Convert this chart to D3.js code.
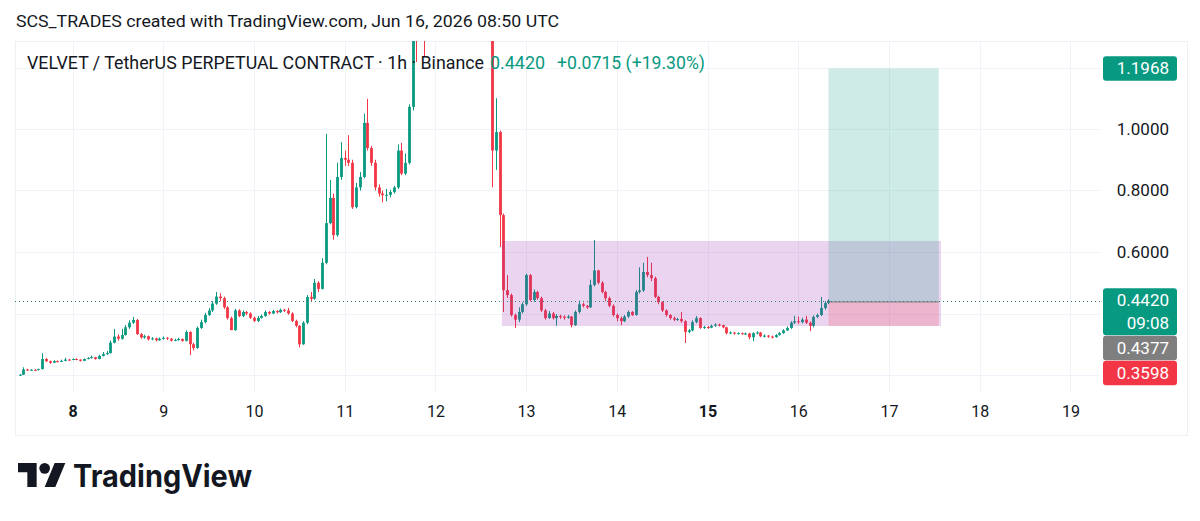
<!DOCTYPE html>
<html>
<head>
<meta charset="utf-8">
<title>VELVET / TetherUS 1h</title>
<script src="https://cdn.jsdelivr.net/npm/d3@7"></script>
<style>
  body { margin: 0; background: #fff; }
  svg { display: block; font-family: Roboto, "Noto Sans", sans-serif; }
</style>
</head>
<body>
<svg width="1200" height="521"></svg>
<script>
// hourly bars, first bar Jun 7 10:00 UTC, open of the first bar, then each bar opens at the previous close
const firstBarTime = Date.UTC(2026, 5, 7, 10);
const firstOpen = 0.199;
const closes = [
  0.201,0.218,0.215,0.217,0.216,0.219,0.252,0.245,0.240,0.245,0.243,0.246,0.250,0.249,
  0.252,0.250,0.246,0.252,0.255,0.258,0.252,0.262,0.268,0.271,0.305,0.325,0.318,0.330,0.355,0.370,0.379,0.333,0.322,0.326,0.316,0.319,0.313,0.318,
  0.321,0.318,0.312,0.314,0.317,0.311,0.340,0.300,0.288,0.353,0.372,0.395,0.410,0.432,0.455,0.450,0.420,0.385,0.346,0.410,0.392,0.405,0.400,0.386,
  0.376,0.386,0.392,0.405,0.400,0.408,0.404,0.412,0.410,0.400,0.376,0.360,0.300,0.370,0.454,0.448,0.500,0.480,0.565,0.694,0.776,0.655,0.844,0.906,
  0.900,0.890,0.746,0.810,0.844,1.020,0.938,0.890,0.810,0.790,0.785,0.786,0.795,0.810,0.930,0.855,0.890,1.072,1.380,1.300,1.360,1.310,1.420,1.520,
  1.480,1.550,1.600,1.540,1.580,1.620,1.560,1.500,1.540,1.480,1.450,1.500,1.460,1.420,1.450,0.930,0.990,0.720,0.476,0.460,0.395,0.380,0.405,0.430,
  0.525,0.444,0.470,0.450,0.410,0.385,0.400,0.385,0.392,0.390,0.386,0.390,0.362,0.405,0.430,0.425,0.420,0.493,0.540,0.500,0.470,0.450,0.425,0.395,
  0.385,0.375,0.390,0.405,0.395,0.470,0.475,0.535,0.525,0.515,0.454,0.437,0.410,0.395,0.385,0.380,0.382,0.375,0.340,0.345,0.372,0.385,0.353,0.356,
  0.354,0.360,0.364,0.362,0.355,0.336,0.338,0.335,0.336,0.334,0.335,0.323,0.336,0.338,0.326,0.328,0.325,0.323,0.330,0.336,0.345,0.353,0.370,0.375,
  0.372,0.380,0.370,0.360,0.389,0.395,0.418,0.434,0.442
];
const highs = [
  0.203,0.225,0.220,0.219,0.219,0.221,0.271,0.255,0.247,0.248,0.247,0.250,0.256,0.252,
  0.254,0.254,0.251,0.254,0.258,0.263,0.259,0.266,0.275,0.278,0.312,0.350,0.332,0.350,0.362,0.378,0.389,0.382,0.336,0.331,0.328,0.323,0.321,0.322,
  0.325,0.323,0.320,0.318,0.321,0.319,0.345,0.342,0.305,0.358,0.380,0.402,0.418,0.440,0.470,0.466,0.455,0.424,0.390,0.415,0.414,0.410,0.408,0.404,
  0.390,0.392,0.397,0.410,0.408,0.412,0.411,0.416,0.415,0.418,0.404,0.380,0.362,0.375,0.460,0.470,0.512,0.505,0.580,0.984,0.834,0.790,0.890,0.957,
  0.930,0.980,0.900,0.825,0.860,1.050,1.098,0.945,0.900,0.820,0.800,0.805,0.802,0.815,0.950,0.955,0.920,1.080,1.420,1.450,1.400,1.380,1.460,1.580,
  1.600,1.620,1.680,1.650,1.640,1.700,1.640,1.580,1.600,1.560,1.520,1.540,1.520,1.480,1.500,1.460,1.100,0.995,0.725,0.525,0.465,0.400,0.420,0.436,
  0.530,0.528,0.478,0.474,0.455,0.415,0.408,0.405,0.398,0.396,0.394,0.395,0.392,0.410,0.442,0.435,0.428,0.510,0.639,0.542,0.505,0.474,0.455,0.430,
  0.400,0.390,0.395,0.410,0.408,0.476,0.550,0.565,0.584,0.565,0.520,0.458,0.440,0.414,0.398,0.390,0.386,0.405,0.378,0.350,0.378,0.392,0.388,0.360,
  0.359,0.364,0.368,0.367,0.364,0.357,0.342,0.340,0.339,0.338,0.338,0.337,0.339,0.342,0.340,0.332,0.330,0.328,0.333,0.340,0.349,0.358,0.375,0.392,
  0.390,0.386,0.392,0.374,0.394,0.400,0.454,0.440,0.446
];
const lows = [
  0.197,0.200,0.213,0.214,0.214,0.215,0.218,0.242,0.236,0.239,0.241,0.242,0.245,0.247,
  0.248,0.248,0.244,0.245,0.251,0.254,0.250,0.251,0.260,0.265,0.270,0.303,0.312,0.315,0.328,0.350,0.366,0.330,0.318,0.318,0.312,0.313,0.309,0.311,
  0.315,0.314,0.309,0.310,0.312,0.308,0.309,0.265,0.280,0.285,0.350,0.368,0.392,0.405,0.428,0.440,0.415,0.380,0.346,0.344,0.388,0.388,0.395,0.382,
  0.372,0.372,0.383,0.389,0.396,0.398,0.400,0.402,0.405,0.396,0.372,0.355,0.290,0.298,0.365,0.440,0.445,0.470,0.478,0.560,0.690,0.640,0.650,0.835,
  0.880,0.880,0.740,0.742,0.800,0.840,0.930,0.880,0.800,0.780,0.762,0.765,0.778,0.790,0.805,0.850,0.850,0.885,1.060,1.218,1.290,1.234,1.300,1.400,
  1.440,1.450,1.520,1.500,1.520,1.560,1.500,1.460,1.480,1.440,1.400,1.420,1.420,1.380,1.400,0.810,0.867,0.616,0.405,0.450,0.390,0.353,0.372,0.400,
  0.425,0.440,0.438,0.445,0.405,0.380,0.383,0.380,0.360,0.382,0.380,0.383,0.355,0.360,0.400,0.420,0.415,0.418,0.488,0.495,0.465,0.440,0.420,0.390,
  0.375,0.362,0.372,0.386,0.392,0.393,0.465,0.470,0.518,0.505,0.450,0.430,0.405,0.390,0.380,0.375,0.376,0.370,0.304,0.336,0.342,0.368,0.350,0.350,
  0.350,0.352,0.357,0.358,0.352,0.332,0.333,0.331,0.332,0.331,0.330,0.316,0.310,0.332,0.323,0.322,0.321,0.319,0.321,0.328,0.334,0.343,0.350,0.366,
  0.366,0.368,0.366,0.343,0.355,0.385,0.392,0.412,0.430
];

const priceGrid = [0.2, 0.4, 0.6, 0.8, 1.0, 1.2];
const priceLabels = [0.6, 0.8, 1.0];
const dayLabels = [8, 9, 10, 11, 12, 13, 14, 15, 16, 17, 18, 19];
const boldDays = [8, 15];

// drawings
const rangeStart = Date.UTC(2026, 5, 12, 17, 36), rangeEnd = Date.UTC(2026, 5, 17, 13, 45);
const rangeTop = 0.636, rangeBottom = 0.3594;
const posStart = Date.UTC(2026, 5, 16, 8, 0), posEnd = Date.UTC(2026, 5, 17, 13, 10);
const entry = 0.4377, target = 1.1968, stop = 0.3598;
const lastPrice = 0.4420, lastChange = "+0.0715 (+19.30%)", countdown = "09:08";

const green = "#089981", red = "#f23645", grid = "#f0f3fa", ink = "#131722";
const pane = { left: 15, top: 41, right: 1100, bottom: 393 };

const bars = closes.map((c, i) => ({
  t: new Date(firstBarTime + i * 3600e3),
  o: i === 0 ? firstOpen : closes[i - 1],
  h: highs[i], l: lows[i], c: c
}));

const x = d3.scaleUtc()
  .domain([Date.UTC(2026, 5, 8), Date.UTC(2026, 5, 19)])
  .range([72.5, 1070.4]);
const y = d3.scaleLinear().domain([0.2, 1.0]).range([375, 129]);

const svg = d3.select("svg");

// header
svg.append("text").attr("x", 16).attr("y", 27)
  .attr("font-size", 17).attr("fill", ink)
  .attr("textLength", 543).attr("lengthAdjust", "spacingAndGlyphs")
  .text("SCS_TRADES created with TradingView.com, Jun 16, 2026 08:50 UTC");

// frame
svg.append("rect").attr("x", pane.left + 0.5).attr("y", pane.top + 0.5)
  .attr("width", 1187 - pane.left).attr("height", 435 - pane.top)
  .attr("fill", "none").attr("stroke", "#eef0f4");

// grid
svg.append("g").selectAll("line").data(priceGrid).join("line")
  .attr("x1", pane.left).attr("x2", pane.right)
  .attr("y1", d => Math.round(y(d)) + 0.5).attr("y2", d => Math.round(y(d)) + 0.5)
  .attr("stroke", grid);
const days = dayLabels.map(d => new Date(Date.UTC(2026, 5, d)));
svg.append("g").selectAll("line").data(days).join("line")
  .attr("x1", d => Math.round(x(d)) + 0.5).attr("x2", d => Math.round(x(d)) + 0.5)
  .attr("y1", pane.top).attr("y2", pane.bottom)
  .attr("stroke", grid);

svg.append("clipPath").attr("id", "clip").append("rect")
  .attr("x", pane.left).attr("y", pane.top)
  .attr("width", pane.right - pane.left).attr("height", pane.bottom - pane.top);

const plot = svg.append("g").attr("clip-path", "url(#clip)");

// candles
const bw = 2.8;
const candle = plot.append("g").selectAll("g").data(bars).join("g");
candle.append("line")
  .attr("x1", d => Math.round(x(d.t)) + 0.5).attr("x2", d => Math.round(x(d.t)) + 0.5)
  .attr("y1", d => y(d.h)).attr("y2", d => y(d.l))
  .attr("stroke", d => d.c >= d.o ? green : red);
candle.append("rect")
  .attr("x", d => Math.round(x(d.t)) + 0.5 - bw / 2)
  .attr("width", bw)
  .attr("y", d => y(Math.max(d.o, d.c)))
  .attr("height", d => Math.max(1, Math.abs(y(d.o) - y(d.c))))
  .attr("fill", d => d.c >= d.o ? green : red);

// rectangle drawing
plot.append("rect")
  .attr("x", x(rangeStart)).attr("width", x(rangeEnd) - x(rangeStart))
  .attr("y", y(rangeTop)).attr("height", y(rangeBottom) - y(rangeTop))
  .attr("fill", "rgba(156,39,176,0.2)");

// long position
plot.append("rect")
  .attr("x", x(posStart)).attr("width", x(posEnd) - x(posStart))
  .attr("y", y(target)).attr("height", y(entry) - y(target))
  .attr("fill", "rgba(8,153,129,0.2)");
plot.append("rect")
  .attr("x", x(posStart)).attr("width", x(posEnd) - x(posStart))
  .attr("y", y(entry)).attr("height", y(stop) - y(entry))
  .attr("fill", "rgba(242,54,69,0.2)");
plot.append("line")
  .attr("x1", x(posStart)).attr("x2", x(posEnd))
  .attr("y1", y(entry)).attr("y2", y(entry))
  .attr("stroke", "#787b86").attr("stroke-width", 1);

// last price line
plot.append("line")
  .attr("x1", pane.left).attr("x2", pane.right)
  .attr("y1", Math.round(y(lastPrice)) + 0.5).attr("y2", Math.round(y(lastPrice)) + 0.5)
  .attr("stroke", "#2e7f72").attr("stroke-dasharray", "1,3");

// legend
const legendY = 69;
svg.append("text").attr("x", 27).attr("y", legendY).attr("font-size", 17.5).attr("fill", ink)
  .attr("textLength", 457).attr("lengthAdjust", "spacingAndGlyphs")
  .text("VELVET / TetherUS PERPETUAL CONTRACT \u00b7 1h \u00b7 Binance");
svg.append("text").attr("x", 490).attr("y", legendY).attr("font-size", 17.5).attr("fill", green)
  .attr("textLength", 55).attr("lengthAdjust", "spacingAndGlyphs")
  .text(d3.format(".4f")(lastPrice));
svg.append("text").attr("x", 557).attr("y", legendY).attr("font-size", 17.5).attr("fill", green)
  .attr("textLength", 148).attr("lengthAdjust", "spacingAndGlyphs")
  .text(lastChange);

// time axis
const xAxis = d3.axisBottom(x).tickValues(days)
  .tickFormat(d3.utcFormat("%-d")).tickSize(0).tickPadding(0);
const gx = svg.append("g").attr("transform", `translate(0,${pane.bottom + 24})`).call(xAxis);
gx.select(".domain").remove();
gx.selectAll("text")
  .attr("font-family", "Roboto, sans-serif").attr("font-size", 16).attr("fill", ink)
  .attr("dy", 0)
  .attr("font-weight", d => boldDays.includes(d.getUTCDate()) ? 700 : 400);

// price axis
const yAxis = d3.axisRight(y).tickValues(priceLabels)
  .tickFormat(d3.format(".4f")).tickSize(0).tickPadding(0);
const gy = svg.append("g").attr("transform", "translate(1169,0)").call(yAxis);
gy.select(".domain").remove();
gy.selectAll("text")
  .attr("font-family", "Roboto, sans-serif").attr("font-size", 17).attr("fill", ink)
  .attr("text-anchor", "end");

// price labels with collision push-down
const tags = [
  { v: target, lines: [d3.format(".4f")(target)], bg: green },
  { v: lastPrice, lines: [d3.format(".4f")(lastPrice), countdown], bg: green },
  { v: entry, lines: [d3.format(".4f")(entry)], bg: "#7f7f7f" },
  { v: stop, lines: [d3.format(".4f")(stop)], bg: red }
];
let prevBottom = -Infinity;
tags.sort((a, b) => b.v - a.v).forEach(tg => {
  const h = tg.lines.length === 1 ? 24.5 : 47;
  const top = Math.max(y(tg.v) - 12.25, prevBottom + 0.5);
  prevBottom = top + h;
  const g = svg.append("g");
  g.append("rect").attr("x", 1103).attr("y", top).attr("width", 74).attr("height", h)
    .attr("rx", 3).attr("fill", tg.bg);
  tg.lines.forEach((s, i) => {
    g.append("text").attr("x", 1169).attr("y", top + 18 + i * 23)
      .attr("text-anchor", "end").attr("font-size", 17).attr("fill", "#fff").text(s);
  });
});

// TradingView logo
const logo = svg.append("g").attr("transform", "translate(18,457.7) scale(1.333)").attr("fill", ink);
logo.append("path").attr("d", "M14 22H7V11H0V4h14v18zM28 22h-8l7.5-18h8L28 22z");
logo.append("circle").attr("cx", 20).attr("cy", 8).attr("r", 4);
svg.append("text").attr("x", 73).attr("y", 487)
  .attr("font-family", "Inter, Roboto, sans-serif").attr("font-weight", 700)
  .attr("font-size", 31).attr("fill", ink)
  .attr("textLength", 179).attr("lengthAdjust", "spacingAndGlyphs")
  .text("TradingView");
</script>
</body>
</html>
